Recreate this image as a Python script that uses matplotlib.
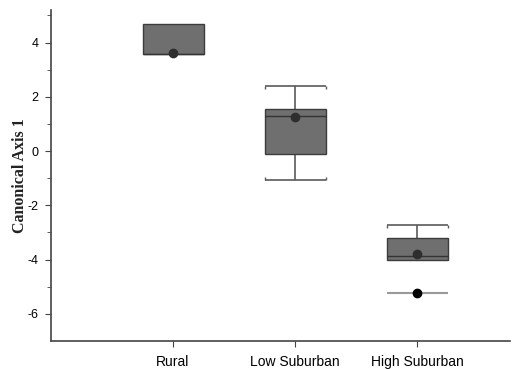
import numpy as np
import matplotlib.pyplot as plt

# groups and box statistics
groups = ['Rural', 'Low Suburban', 'High Suburban']
q1 = [3.58, -0.11, -4.02]
q3 = [4.70, 1.54, -3.22]
medians = [3.58, 1.28, -3.87]
means = [3.60, 1.27, -3.81]
whis_lo = [np.nan, -1.06, np.nan]
whis_hi = [np.nan, 2.39, -2.74]
# extra point shown below the High Suburban box
extra_pos = [3]
extra_val = [-5.24]

pos = np.arange(1, len(groups) + 1)
w = 0.5

fig = plt.figure(figsize=(5.14, 3.69), dpi=100)
ax = fig.add_axes([0.0992, 0.0759, 0.8928, 0.897])

wc = '#5a5a5a'
for i, p in enumerate(pos):
    if not np.isnan(whis_hi[i]):
        ax.vlines(p, q3[i], whis_hi[i], color=wc, lw=1.2, zorder=1)
        ax.hlines(whis_hi[i], p - w/2, p + w/2, color=wc, lw=1.2, zorder=1)
        ax.vlines([p - w/2, p + w/2], whis_hi[i] - 0.1, whis_hi[i], color=wc, lw=1.0)
    if not np.isnan(whis_lo[i]):
        ax.vlines(p, whis_lo[i], q1[i], color=wc, lw=1.2, zorder=1)
        ax.hlines(whis_lo[i], p - w/2, p + w/2, color=wc, lw=1.2, zorder=1)
        ax.vlines([p - w/2, p + w/2], whis_lo[i], whis_lo[i] + 0.1, color=wc, lw=1.0)

heights = np.array(q3) - np.array(q1)
ax.bar(pos, heights, bottom=q1, width=w, color='#6f6f6f', edgecolor='#3c3c3c',
       linewidth=1.0, zorder=2)
ax.hlines(medians, pos - w/2, pos + w/2, color='#333333', lw=1.0, zorder=3)
ax.plot(pos, means, 'o', color='#2e2e2e', ms=6, zorder=4)

for p, v in zip(extra_pos, extra_val):
    ax.hlines(v, p - w/2, p + w/2, color='#9a9a9a', lw=1.5, zorder=1)
    ax.plot(p, v, 'o', color='black', ms=6, zorder=4)

ax.set_xlim(0, 3.76)
ax.set_ylim(-7, 5.2)
ax.set_xticks(pos)
ax.set_xticklabels(groups, fontsize=10, family='Liberation Sans')
ax.set_yticks([-6, -4, -2, 0, 2, 4])
ax.set_yticks([-5, -3, -1, 1, 3, 5], minor=True)
ax.set_yticklabels(['-6', '-4', '-2', '0', '2', '4'], fontsize=9, family='Liberation Sans')
ax.tick_params(axis='x', length=4, pad=6, color='#444444')
ax.tick_params(axis='y', which='major', length=4, pad=5, color='#444444')
ax.tick_params(axis='y', which='minor', length=3, color='#444444')
ax.set_ylabel('Canonical Axis 1', family='Liberation Serif', fontsize=11.5,
              fontweight='bold', color='#222222')
ax.yaxis.set_label_coords(-0.05, 0.5)

for s in ['top', 'right']:
    ax.spines[s].set_visible(False)
for s in ['left', 'bottom']:
    ax.spines[s].set_color('#444444')
    ax.spines[s].set_linewidth(1.2)

fig.savefig('out.png', dpi=100)
